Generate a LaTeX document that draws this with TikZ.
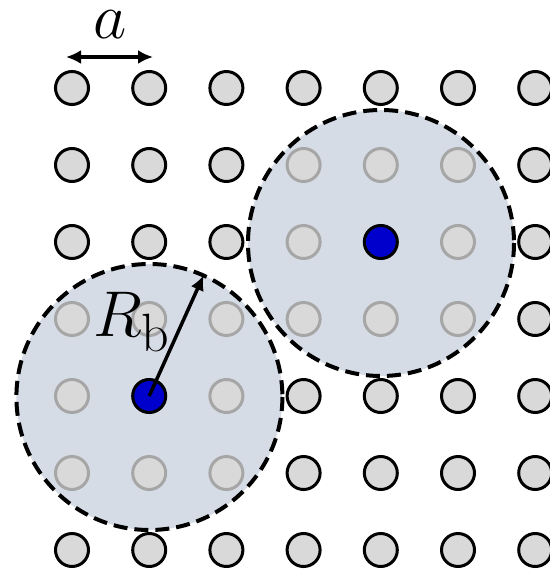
\documentclass[tikz,border=0pt]{standalone}
\usetikzlibrary{arrows.meta}
\definecolor{sitegray}{HTML}{D9D9D9}
\definecolor{zonefill}{HTML}{D5DCE6}
\definecolor{atomblue}{HTML}{0000CC}
\tikzset{
  site/.style={circle, draw=black, fill=sitegray, line width=3pt, minimum size=33pt, inner sep=0pt},
  hidden site/.style={site, draw=black!35},
  atom/.style={site, fill=atomblue},
  zone/.style={circle, fill=zonefill, minimum size=266pt, inner sep=0pt},
  zone edge/.style={dashed, dash pattern=on 14pt off 7pt, line width=4pt},
  span arrow/.style={{Latex[length=15pt,width=14pt]}-{Latex[length=15pt,width=14pt]}, line width=3.5pt},
  radius arrow/.style={-{Latex[length=15pt,width=14pt]}, line width=3.5pt},
  label text/.style={font=\Huge, scale=2.6, inner sep=0pt}
}
\begin{document}
\begin{tikzpicture}[x=1pt,y=-1pt]
  \useasboundingbox (0,0) rectangle (549,572);
  % blockade zones
  \node[zone] (zone-1) at (149.4,397) {};
  \node[zone] (zone-2) at (381,243) {};
  % lattice sites
  \foreach \i in {0,...,6}{
    \foreach \j in {0,...,6}{
      \pgfmathtruncatemacro{\da}{(\i-1)^2+(\j-4)^2}
      \pgfmathtruncatemacro{\db}{(\i-4)^2+(\j-2)^2}
      \pgfmathtruncatemacro{\inside}{(\da<=2)||(\db<=2)}
      \ifnum\inside=1
        \node[hidden site] (site-\i-\j) at ({72+77.2*\i},{88+77*\j}) {};
      \else
        \node[site] (site-\i-\j) at ({72+77.2*\i},{88+77*\j}) {};
      \fi
    }
  }
  \draw[zone edge] (zone-1.center) circle (133);
  \draw[zone edge] (zone-2.center) circle (133);
  % excited atoms
  \node[atom] (atom-1) at (site-1-4) {};
  \node[atom] (atom-2) at (site-4-2) {};
  % lattice constant
  \coordinate (span-left) at (66,57);
  \coordinate (span-right) at (153,57);
  \draw[span arrow] (span-left) -- (span-right);
  \node[label text] (a-label) at (110,25) {$a$};
  % blockade radius
  \draw[radius arrow] (atom-1.center) -- (zone-1.66);
  \node[label text] (rb-label) at (132,322) {$R_{\mathrm{b}}$};
\end{tikzpicture}
\end{document}
